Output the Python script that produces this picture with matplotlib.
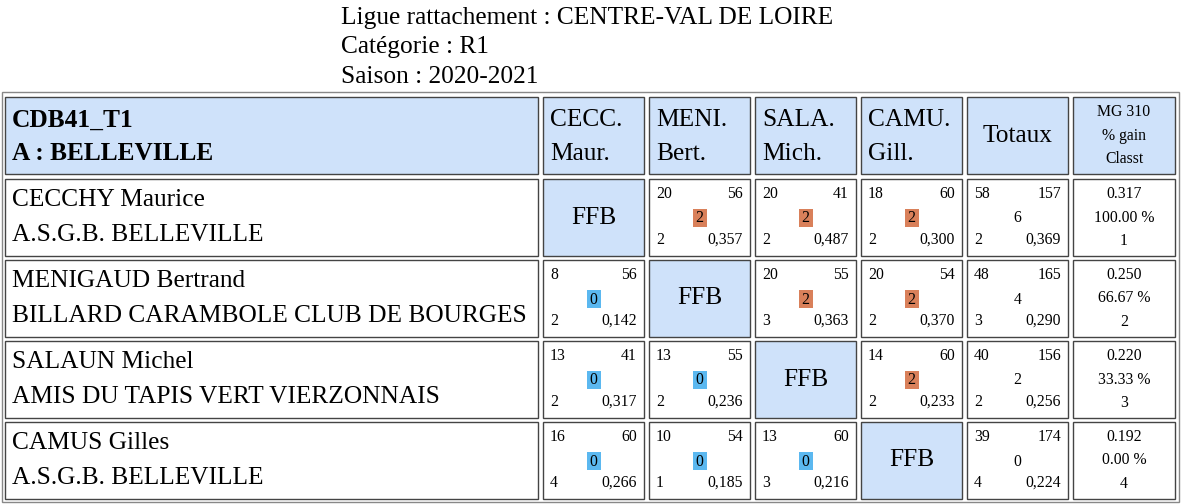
import matplotlib
matplotlib.use("Agg")
import matplotlib.pyplot as plt
from matplotlib.patches import Rectangle

title_lines = ["Ligue rattachement : CENTRE-VAL DE LOIRE", "Catégorie : R1", "Saison : 2020-2021"]
team = ["CDB41_T1", "A : BELLEVILLE"]
col_heads = [["CECC.", "Maur."], ["MENI.", "Bert."], ["SALA.", "Mich."], ["CAMU.", "Gill."]]
mg_head = ["MG 310", "% gain", "Classt"]
players = ["CECCHY Maurice", "MENIGAUD Bertrand", "SALAUN Michel", "CAMUS Gilles"]
clubs = ["A.S.G.B. BELLEVILLE", "BILLARD CARAMBOLE CLUB DE BOURGES",
         "AMIS DU TAPIS VERT VIERZONNAIS", "A.S.G.B. BELLEVILLE"]
points = [[None, 20, 20, 18], [8, None, 20, 20], [13, 13, None, 14], [16, 10, 13, None]]
reprises = [[None, 56, 41, 60], [56, None, 55, 54], [41, 55, None, 60], [60, 54, 60, None]]
match_pts = [[None, 2, 2, 2], [0, None, 2, 2], [0, 0, None, 2], [0, 0, 0, None]]
series = [[None, 2, 2, 2], [2, None, 3, 2], [2, 2, None, 2], [4, 1, 3, None]]
averages = [[None, "0,357", "0,487", "0,300"], ["0,142", None, "0,363", "0,370"],
            ["0,317", "0,236", None, "0,233"], ["0,266", "0,185", "0,216", None]]
tot_points = [58, 48, 40, 39]
tot_reprises = [157, 165, 156, 174]
tot_match = [6, 4, 2, 0]
tot_series = [2, 3, 2, 4]
tot_avg = ["0,369", "0,290", "0,256", "0,224"]
mg = ["0.317", "0.250", "0.220", "0.192"]
gain = ["100.00 %", "66.67 %", "33.33 %", "0.00 %"]
classt = ["1", "2", "3", "4"]

W, H = 1181, 504
fig = plt.figure(figsize=(W / 100, H / 100), dpi=100)
ax = fig.add_axes([0, 0, 1, 1])
ax.set_xlim(0, W); ax.set_ylim(H, 0); ax.axis("off")
F = "Liberation Serif"
HEAD = "#cfe2fa"; ORANGE = "#d9805a"; BLUE = "#5bb8f0"
BIG = 18.3
SM = 11.3

for i, t in enumerate(title_lines):
    ax.text(341, 18 + 29.5 * i, t, fontsize=BIG, family=F, va="center", ha="left")

ax.add_patch(Rectangle((2, 92), 1177, 410, fill=False, ec="#888", lw=1))
cols = [(5, 538), (543, 644), (649, 750), (755, 856), (861, 962), (967, 1068), (1073, 1175)]
rows = [(97, 174), (179, 256), (260, 337), (341, 418), (422, 499)]

def cell(c, r, fc):
    x0, x1 = cols[c]; y0, y1 = rows[r]
    ax.add_patch(Rectangle((x0, y0), x1 - x0, y1 - y0, fc=fc, ec="#444", lw=1))
    return x0, x1, y0, y1

x0, x1, y0, y1 = cell(0, 0, HEAD)
ax.text(x0 + 7, 120, team[0], fontsize=BIG, family=F, weight="bold", va="center")
ax.text(x0 + 7, 154, team[1], fontsize=BIG, family=F, weight="bold", va="center")
for j, h in enumerate(col_heads):
    x0, x1, y0, y1 = cell(j + 1, 0, HEAD)
    ax.text(x0 + 7, 120, h[0], fontsize=BIG, family=F, va="center")
    ax.text(x0 + 7, 154, h[1], fontsize=BIG, family=F, va="center")
x0, x1, y0, y1 = cell(5, 0, HEAD)
ax.text((x0 + x1) / 2, 136, "Totaux", fontsize=BIG, family=F, va="center", ha="center")
x0, x1, y0, y1 = cell(6, 0, HEAD)
for k, s in enumerate(mg_head):
    ax.text((x0 + x1) / 2, 112 + 23.5 * k, s, fontsize=SM, family=F, va="center", ha="center")

def small_cell(c, r, p, rep, m, s, a, badge):
    x0, x1, y0, y1 = cell(c, r, "white")
    cx, cy = (x0 + x1) / 2, (y0 + y1) / 2
    ax.text(x0 + 7, y0 + 15, str(p), fontsize=SM, family=F, va="center")
    ax.text(x1 - 7, y0 + 15, str(rep), fontsize=SM, family=F, va="center", ha="right")
    if badge:
        ax.add_patch(Rectangle((cx - 7, cy - 9), 14, 18, fc=ORANGE if m > 0 else BLUE, ec="none"))
    ax.text(cx, cy + 1, str(m), fontsize=SM, family=F, va="center", ha="center")
    ax.text(x0 + 7, y1 - 16, str(s), fontsize=SM, family=F, va="center")
    ax.text(x1 - 7, y1 - 16, a, fontsize=SM, family=F, va="center", ha="right")

for i in range(4):
    x0, x1, y0, y1 = cell(0, i + 1, "white")
    ax.text(x0 + 7, y0 + 21, players[i], fontsize=BIG, family=F, va="center")
    ax.text(x0 + 7, y0 + 56, clubs[i], fontsize=BIG, family=F, va="center")
    for j in range(4):
        if points[i][j] is None:
            x0, x1, y0, y1 = cell(j + 1, i + 1, HEAD)
            ax.text((x0 + x1) / 2, (y0 + y1) / 2, "FFB", fontsize=BIG, family=F, va="center", ha="center")
        else:
            small_cell(j + 1, i + 1, points[i][j], reprises[i][j], match_pts[i][j],
                       series[i][j], averages[i][j], True)
    small_cell(5, i + 1, tot_points[i], tot_reprises[i], tot_match[i], tot_series[i], tot_avg[i], False)
    x0, x1, y0, y1 = cell(6, i + 1, "white")
    for k, s in enumerate([mg[i], gain[i], classt[i]]):
        ax.text((x0 + x1) / 2, y0 + 15 + 23.5 * k, s, fontsize=SM, family=F, va="center", ha="center")

fig.savefig("out.png", dpi=100)
